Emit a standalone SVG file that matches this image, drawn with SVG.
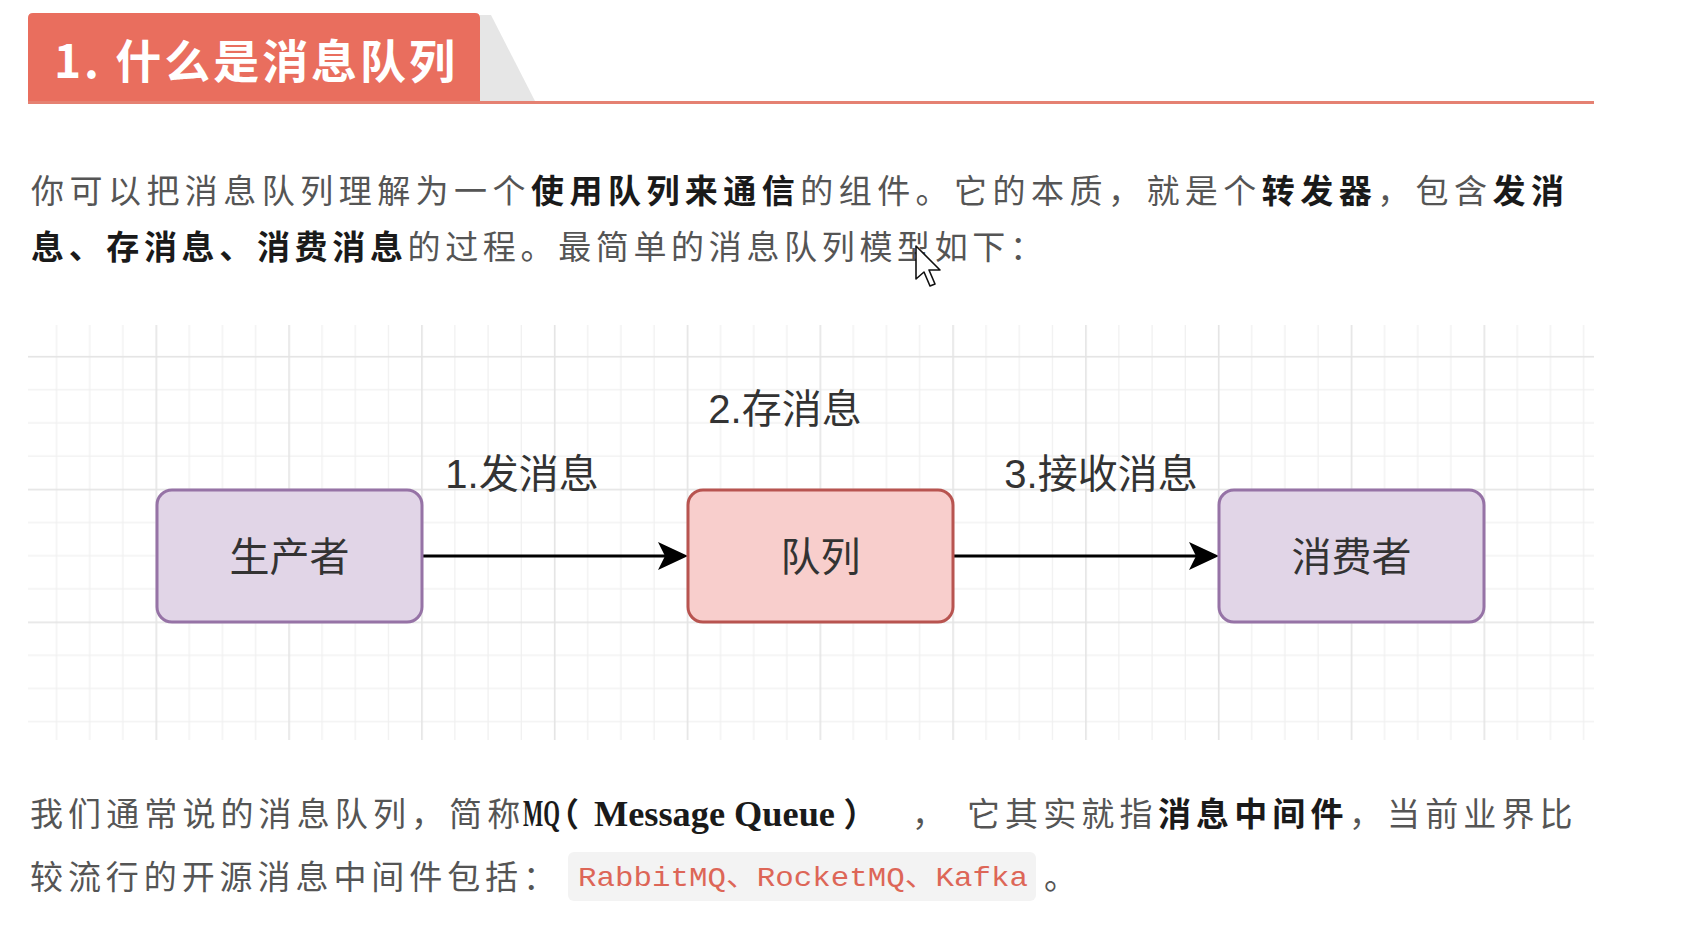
<svg xmlns="http://www.w3.org/2000/svg" width="1691" height="945" viewBox="0 0 1691 945">
  <style>
    .p { font-family: "Noto Sans CJK SC", "Liberation Sans", sans-serif; font-size: 33px; fill: #555555; }
    .b { font-weight: bold; fill: #1a1a1a; }
    .ls { letter-spacing: 5.1px; }
    .palt { font-feature-settings: "palt" 1; letter-spacing: 0; }
    .lat { font-family: "Liberation Serif", "Noto Sans CJK SC", serif; font-size: 38px; font-weight: bold; fill: #1a1a1a; letter-spacing: 0; }
    .lbl { font-family: "Liberation Sans", "Noto Sans CJK SC", sans-serif; font-size: 40px; fill: #333333; text-anchor: middle; }
    .code { font-family: "Liberation Mono", "Noto Sans CJK SC", monospace; font-size: 28px; fill: #dd6657; }
    .edge { stroke: #000000; stroke-width: 3.2; fill: none; }
    .purple { fill: #e1d5e7; stroke: #9673a6; stroke-width: 3; }
    .red { fill: #f8cecc; stroke: #b85450; stroke-width: 3; }
  </style>
  <defs>
    <pattern id="grid" patternUnits="userSpaceOnUse" x="155.5" y="355.9" width="132.8" height="132.8">
      <rect x="0" y="0" width="132.8" height="132.8" fill="#ffffff"/>
      <rect x="33.2" y="0" width="1.2" height="132.8" fill="#f0f0f0"/>
      <rect x="66.4" y="0" width="1.2" height="132.8" fill="#f0f0f0"/>
      <rect x="99.6" y="0" width="1.2" height="132.8" fill="#f0f0f0"/>
      <rect x="0" y="33.2" width="132.8" height="1.2" fill="#f0f0f0"/>
      <rect x="0" y="66.4" width="132.8" height="1.2" fill="#f0f0f0"/>
      <rect x="0" y="99.6" width="132.8" height="1.2" fill="#f0f0f0"/>
      <rect x="0" y="0" width="1.6" height="132.8" fill="#e4e4e4"/>
      <rect x="0" y="0" width="132.8" height="1.6" fill="#e4e4e4"/>
    </pattern>
    <marker id="arrow" viewBox="0 0 30 30" refX="22" refY="15" markerWidth="30" markerHeight="30" markerUnits="userSpaceOnUse" orient="auto">
      <path d="M0,1 L30,15 L0,29 L7,15 Z" fill="#000000"/>
    </marker>
  </defs>

  <rect x="0" y="0" width="1691" height="945" fill="#ffffff"/>

  <!-- heading -->
  <g id="heading">
    <polygon points="480,15 491,15 535,101 480,101" fill="#e6e6e6"/>
    <path d="M28,103 L28,18 Q28,13 33,13 L475,13 Q480,13 480,18 L480,103 Z" fill="#e96e5e"/>
    <rect x="28" y="101" width="1566" height="3" fill="#e58172"/>
    <text x="54" y="78" font-family="Noto Sans CJK SC, sans-serif" font-size="46" font-weight="bold" fill="#ffffff" textLength="401" lengthAdjust="spacing">1. 什么是消息队列</text>
  </g>

  <!-- paragraph 1 -->
  <g id="para1">
    <text class="p" x="31" y="203" textLength="1533" lengthAdjust="spacing">你可以把消息队列理解为一个<tspan class="b">使用队列来通信</tspan>的组件。它的本质，就是个<tspan class="b">转发器</tspan>，包含<tspan class="b">发消</tspan></text>
    <text class="p" x="31" y="259" textLength="1012" lengthAdjust="spacing"><tspan class="b">息、存消息、消费消息</tspan>的过程。最简单的消息队列模型如下：</text>
  </g>

  <!-- grid background -->
  <rect id="canvas" x="28" y="325" width="1566" height="415" fill="url(#grid)"/>

  <!-- connectors -->
  <g id="connectors">
    <path class="edge" d="M422,556 L680,556" marker-end="url(#arrow)"/>
    <path class="edge" d="M953,556 L1211,556" marker-end="url(#arrow)"/>
  </g>

  <!-- nodes -->
  <g id="producer">
    <rect class="purple" x="157" y="490" width="265" height="132" rx="15" ry="15"/>
    <text class="lbl" x="289.5" y="571">生产者</text>
  </g>
  <g id="queue">
    <rect class="red" x="688" y="490" width="265" height="132" rx="15" ry="15"/>
    <text class="lbl" x="820.5" y="571">队列</text>
  </g>
  <g id="consumer">
    <rect class="purple" x="1219" y="490" width="265" height="132" rx="15" ry="15"/>
    <text class="lbl" x="1351.5" y="571">消费者</text>
  </g>

  <!-- edge labels -->
  <g id="label-send">
    <text class="lbl" x="522" y="488">1.发消息</text>
  </g>
  <g id="label-store">
    <text class="lbl" x="785" y="423">2.存消息</text>
  </g>
  <g id="label-receive">
    <text class="lbl" x="1101" y="488">3.接收消息</text>
  </g>

  <!-- paragraph 2 -->
  <g id="para2">
    <text class="p ls" y="826"><tspan x="30">我们通常说的消息队列，简称</tspan><tspan class="lat" x="523" textLength="37" lengthAdjust="spacingAndGlyphs">MQ</tspan><tspan class="b palt" x="561">（</tspan><tspan class="lat" x="594" style="font-size:36.3px">Message Queue</tspan><tspan class="b palt" x="845">）</tspan><tspan class="palt" x="914">，</tspan><tspan x="967">它其实就指</tspan><tspan class="b" x="1158">消息中间件</tspan><tspan x="1349">，当前业界比</tspan></text>
    <text class="p" x="30" y="889" textLength="526" lengthAdjust="spacing">较流行的开源消息中间件包括：</text>
    <rect x="568" y="852" width="468" height="49" rx="6" ry="6" fill="#f3f3f3"/>
    <text class="code" x="578" y="886" textLength="450" lengthAdjust="spacingAndGlyphs">RabbitMQ、RocketMQ、Kafka</text>
    <text class="p" x="1044" y="889">。</text>
  </g>

  <!-- mouse pointer -->
  <g id="cursor">
    <polygon points="916,246 916,279 924,272 930,286 935,284 929,270 940,270" fill="#ffffff" stroke="#111111" stroke-width="1.6" stroke-linejoin="round"/>
  </g>
</svg>
